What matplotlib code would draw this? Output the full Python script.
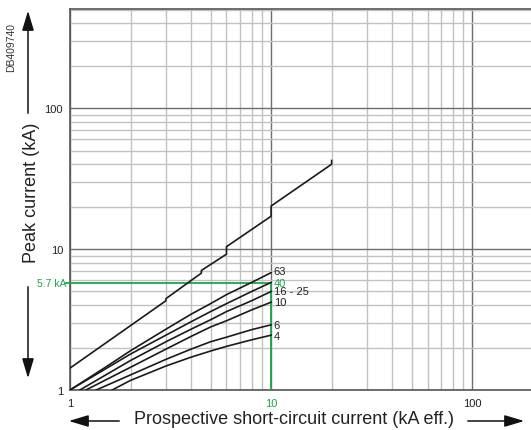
import matplotlib
matplotlib.use("Agg")
import matplotlib.pyplot as plt
from matplotlib.patches import FancyArrowPatch

plt.rcParams['font.family'] = ['Liberation Sans', 'DejaVu Sans']

# Unlimited peak current (stepped curve)
peak_x = [1, 3, 3, 4.5, 4.5, 6, 6, 10, 10, 20, 20]
peak_y = [1.43, 4.3, 4.45, 6.75, 7.05, 9.2, 10.4, 17.1, 20.2, 40, 42.5]

# Limited peak current per rating
curve_labels = ["63", "40", "16 - 25", "10", "6", "4"]
curve_x = [
    [1, 1.5, 2, 3, 4, 5, 6, 8, 10],
    [1, 2, 3, 4, 5, 6, 8, 10],
    [1.12, 2, 3, 4, 5, 6, 8, 10],
    [1.2, 2, 3, 4, 5, 6, 8, 10],
    [1.35, 2, 3, 4, 5, 6, 8, 10],
    [1.62, 2, 3, 4, 5, 6, 8, 10],
]
curve_y = [
    [1, 1.45, 1.9, 2.7, 3.45, 4.1, 4.75, 5.8, 6.8],
    [1, 1.8, 2.45, 3.05, 3.6, 4.1, 5.0, 5.8],
    [1, 1.62, 2.2, 2.7, 3.15, 3.6, 4.3, 5.0],
    [1, 1.45, 1.95, 2.4, 2.8, 3.1, 3.7, 4.2],
    [1, 1.28, 1.65, 1.95, 2.2, 2.37, 2.68, 2.9],
    [1, 1.17, 1.48, 1.71, 1.89, 2.04, 2.27, 2.45],
]
label_y = [6.95, 5.75, 5.0, 4.2, 2.9, 2.42]

mark_x = 10
mark_y = 5.7

GREEN = "#1aa64f"
W, H = 531, 431


def fpos(x, y):
    # pixel position (from top-left) to figure fraction
    return x / W, 1 - y / H


fig = plt.figure(figsize=(W / 100, H / 100), dpi=100)
ax = fig.add_axes([70 / W, 1 - 391 / H, 461 / W, 381 / H])
ax.set_xscale("log")
ax.set_yscale("log")
ax.set_xlim(1, 196)
ax.set_ylim(1, 505)

ax.grid(True, which="minor", color="#c2c2c2", lw=1.0)
ax.grid(True, which="major", color="#6e6e6e", lw=1.0)
ax.set_axisbelow(True)
for s in ax.spines.values():
    s.set_color("#555555")
    s.set_linewidth(1.2)
ax.spines["right"].set_visible(False)

ax.set_xticks([1, 10, 100])
ax.set_xticklabels(["1", "10", "100"])
ax.set_yticks([1, 10, 100])
ax.set_yticklabels(["1", "10", "100"])
ax.tick_params(which="both", length=0, labelsize=8, colors="#222222")
ax.tick_params(axis="x", pad=6)
ax.tick_params(axis="y", pad=5)
ax.get_xticklabels()[1].set_color(GREEN)

# green reference lines
ax.plot([mark_x, mark_x], [1, mark_y], color=GREEN, lw=1.3, zorder=3)
ax.plot([0.96, mark_x], [mark_y, mark_y], color=GREEN, lw=1.3, zorder=3, clip_on=False)
ax.text(0.955, mark_y, "5.7 kA", color=GREEN, fontsize=7.5, ha="right", va="center")

ax.plot(peak_x, peak_y, color="#1a1a1a", lw=1.2, zorder=4)
for xs, ys, lab, ly in zip(curve_x, curve_y, curve_labels, label_y):
    ax.plot(xs, ys, color="#1a1a1a", lw=1.2, zorder=4)
    ax.text(10.3, ly, lab, fontsize=8, color=GREEN if lab == "40" else "#222222",
            ha="left", va="center")

# axis titles with arrows
fig.text(*fpos(294, 420), "Prospective short-circuit current (kA eff.)",
         fontsize=13, ha="center", va="center", color="#222222")
fig.text(*fpos(32, 193), "Peak current (kA)", rotation=90,
         fontsize=13, ha="center", va="center", color="#222222")
fig.text(*fpos(11, 48), "DB409740", rotation=90, fontsize=7.5,
         ha="center", va="center", color="#333333")

style = "-|>,head_length=1.0,head_width=0.3"
for a, b in [((122, 422), (66, 422)), ((465, 422), (527, 422)),
             ((28, 117), (28, 9)), ((28, 285), (28, 382))]:
    fig.add_artist(FancyArrowPatch(fpos(*a), fpos(*b), transform=fig.transFigure,
                                   arrowstyle=style, mutation_scale=12,
                                   color="#111111", lw=1.1))

fig.savefig("out.png", dpi=100)
